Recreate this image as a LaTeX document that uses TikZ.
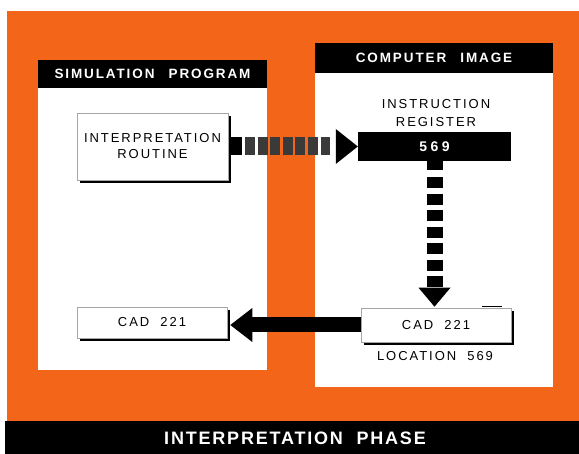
\documentclass[tikz,border=0pt]{standalone}
\usepackage{fontspec}
\setmainfont{Liberation Sans}
\newfontfamily\bodyfont[LetterSpace=15,WordSpace=2]{Liberation Sans}
\newfontfamily\headfont[LetterSpace=14,WordSpace=2.5]{Liberation Sans}
\newfontfamily\barfont[LetterSpace=10,WordSpace=2]{Liberation Sans}
\newfontfamily\numfont[LetterSpace=25]{Liberation Sans}
\usetikzlibrary{shadows,calc}
\definecolor{orangebg}{RGB}{243,102,26}
\definecolor{dashgray}{RGB}{58,58,58}
\tikzset{
  headerbox/.style={fill=black, text=white, inner sep=0pt,
    font=\headfont\bfseries\fontsize{13.5}{14}\selectfont},
  shadowbox/.style={draw=gray!70, line width=0.6pt, fill=white, inner sep=0pt,
    drop shadow={shadow xshift=3pt, shadow yshift=-3pt, opacity=1, fill=black},
    font=\bodyfont\fontsize{13}{16}\selectfont, align=center},
  plaintext/.style={inner sep=0pt, align=center, font=\bodyfont\fontsize{13}{18}\selectfont},
  regbox/.style={fill=black, text=white, inner sep=0pt,
    font=\numfont\bfseries\fontsize{14}{14}\selectfont},
  hdash/.style={line width=18pt, dash pattern=on 10pt off 2.6pt, draw=dashgray},
  vdash/.style={line width=16pt, dash pattern=on 11pt off 5.5pt, draw=black},
  solidshaft/.style={line width=15pt, draw=black}
}
\begin{document}
\begin{tikzpicture}[x=1pt,y=-1pt]
\useasboundingbox (0,0) rectangle (579,454);
% background
\fill[white] (0,0) rectangle (579,454);
\fill[orangebg] (7,11) rectangle (579,421);
\fill[black] (5,421) rectangle (579,454);
\node[text=white, inner sep=0pt, font=\barfont\bfseries\fontsize{18}{18}\selectfont] (phase) at (295,438) {INTERPRETATION PHASE};
% panels
\fill[white] (38,88) rectangle (267,370);
\fill[white] (315,73) rectangle (553,387);
\node[headerbox, minimum width=229pt, minimum height=28pt] (simhead) at (152.5,74) {SIMULATION PROGRAM};
\node[headerbox, minimum width=238pt, minimum height=30pt] (comphead) at (434,58) {COMPUTER IMAGE};
% boxes
\node[shadowbox, minimum width=151pt, minimum height=67pt] (routine) at (152.5,146.5) {INTERPRETATION\\ROUTINE};
\node[shadowbox, minimum width=150pt, minimum height=31pt] (cadL) at (152,322.5) {CAD 221};
\node[shadowbox, minimum width=150pt, minimum height=34pt] (cadR) at (436,325) {CAD 221};
\node[plaintext] (irlabel) at (436,113) {INSTRUCTION\\REGISTER};
\node[regbox, minimum width=153pt, minimum height=29pt] (reg) at (434.5,146.5) {569};
\node[plaintext] (loclabel) at (435,356) {LOCATION 569};
\draw[black, line width=1pt] ($(cadR.north east)+(-29pt,1.5pt)$) -- ++(20pt,0);
% horizontal dashed arrow: routine -> register
\draw[hdash] ([xshift=4pt]routine.east) -- ([xshift=-28pt]reg.west);
\fill[black] ([xshift=2pt,yshift=-9pt]routine.east) rectangle ([xshift=14pt,yshift=9pt]routine.east);
\fill[black] (reg.west) -- ++(-22pt,17.5pt) -- ++(0,-35pt) -- cycle;
% vertical dashed arrow: register -> cadR
\fill[black] ([xshift=-8pt]reg.south) rectangle ([xshift=8pt,yshift=-9pt]reg.south);
\draw[vdash] ([yshift=-16pt]reg.south) -- ([yshift=20.5pt]reg.south |- cadR.north);
\fill[black] ([yshift=1pt]reg.south |- cadR.north) -- ++(-16pt,19pt) -- ++(32pt,0) -- cycle;
% solid arrow: cadR -> cadL
\draw[solidshaft] (cadR.west) -- ([xshift=24pt]cadR.west -| cadL.east);
\fill[black] ([xshift=3pt]cadR.west -| cadL.east) -- ++(22pt,-17pt) -- ++(0,34pt) -- cycle;
\end{tikzpicture}
\end{document}
